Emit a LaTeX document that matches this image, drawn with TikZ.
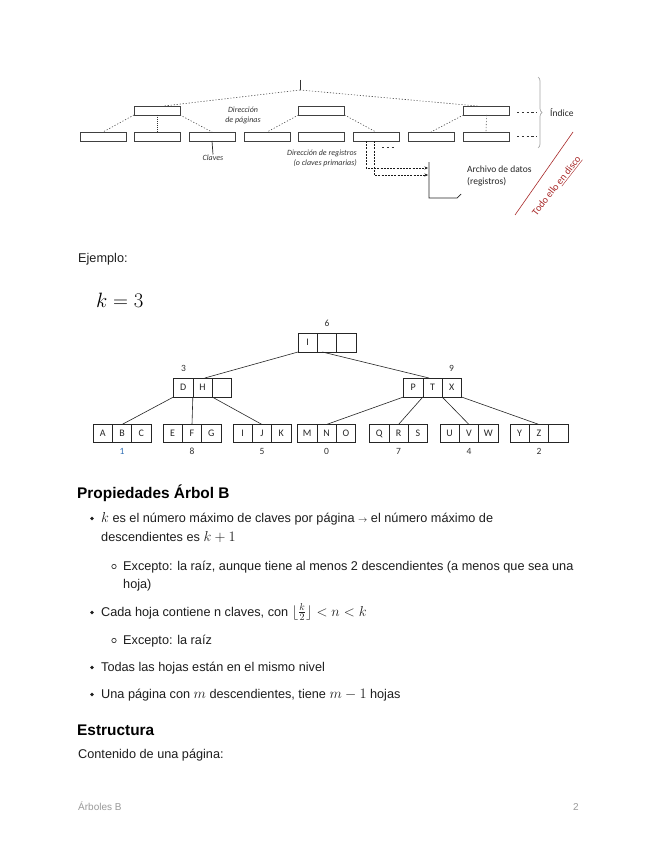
\documentclass[tikz,border=0pt]{standalone}
\usepackage[no-math]{fontspec}
\setmainfont{Liberation Sans}
\newfontfamily\carl{Carlito}
\usetikzlibrary{calc,arrows.meta,decorations.pathreplacing}
\definecolor{txt}{HTML}{1E1E1E}
\definecolor{dred}{HTML}{A82828}
\definecolor{nblue}{HTML}{2E6DB4}
\definecolor{foot}{HTML}{9A9A9A}
\newcommand\mth[1]{{\fontsize{14.4}{19}\selectfont$#1$}}
\newcommand\bpage[6][page]{%
  \node[#1] (#2) at #3 {};
  \draw[black!85,line width=0.6pt]
    ($(#2.north west)!1/3!(#2.north east)$) -- ($(#2.south west)!1/3!(#2.south east)$)
    ($(#2.north west)!2/3!(#2.north east)$) -- ($(#2.south west)!2/3!(#2.south east)$);
  \node[cell] (#2a) at ($(#2.west)!1/6!(#2.east)$) {#4};
  \node[cell] (#2b) at ($(#2.west)!1/2!(#2.east)$) {#5};
  \node[cell] (#2c) at ($(#2.west)!5/6!(#2.east)$) {#6};
}
\begin{document}
\begin{tikzpicture}[x=1pt,y=-1pt,
  ibox/.style={draw=black!75,line width=0.8pt,fill=white,minimum width=46pt,minimum height=9pt,inner sep=0pt,outer sep=0pt},
  dotl/.style={black!70,line width=0.6pt,dash pattern=on 1.2pt off 1.8pt},
  densel/.style={black!80,line width=0.6pt,dash pattern=on 1.2pt off 0.8pt},
  dashl/.style={black!90,line width=0.6pt,dash pattern=on 2pt off 1.2pt},
  lbl/.style={font=\carl\fontsize{8}{10}\selectfont\itshape,text=black!80,inner sep=0pt},
  dlbl/.style={font=\carl\fontsize{9.5}{12}\selectfont,text=black!85,inner sep=0pt},
  page/.style={draw=black!85,line width=0.6pt,minimum width=58pt,minimum height=19pt,inner sep=0pt,outer sep=0pt},
  leaf/.style={page,minimum height=18pt},
  cell/.style={font=\carl\fontsize{10}{11}\selectfont,inner sep=0pt,text=black!85},
  num/.style={font=\carl\fontsize{9.5}{11}\selectfont,inner sep=0pt,text=black!80},
  body/.style={anchor=base west,inner sep=0pt,font=\fontsize{12.7}{19}\selectfont,text=txt},
  head/.style={anchor=base west,inner sep=0pt,font=\bfseries\fontsize{15.4}{18}\selectfont,text=black},
  dots/.style={black!80,line width=0.7pt,dash pattern=on 2.2pt off 2.6pt}
]
\useasboundingbox[fill=white] (0,0) rectangle (655,848);

% ---------- top diagram ----------
\coordinate (root) at (300,90);
\draw[black!80,line width=0.7pt] (300,80) -- (root);
\foreach \n/\x in {1/80,2/134,3/189,4/244,5/298,6/353,7/408,8/463}{
  \node[ibox] (l\n) at (\x+23,136.5) {};
}
\node[ibox] (i1) at (157,110.5) {};
\node[ibox] (i2) at (321.5,110.5) {};
\node[ibox] (i3) at (486.5,110.5) {};

\draw[dotl] (root) -- ($(i1.north west)!0.65!(i1.north east)$);
\draw[dotl] (root) -- ($(i3.north west)!0.3!(i3.north east)$);
\draw[dotl] (i1.south west) -- (l1.north);
\draw[densel] (i1.south) -- (l2.north);
\draw[dotl] (i1.south east) -- (l3.north);
\draw[dotl] (i2.south west) -- (l4.north);
\draw[dotl] (i2.south east) -- (l6.north);
\draw[dotl] (i3.south west) -- (l7.north);
\draw[dotl] (i3.south) -- (l8.north);

\node[lbl,align=center] (dirpag) at (243,115) {Dirección\\de páginas};
\node[lbl] (claves) at (213,157.5) {Claves};
\draw[black!85,line width=0.7pt] (l3.south) -- (claves.north);
\node[lbl,align=right,anchor=east] (dirreg) at (357,158) {Dirección de registros\\(o claves primarias)};

\draw[dots] (517,112) -- (537,112);
\draw[dots] (517,136.5) -- (537,136.5);
\draw[dots] (382,147) -- (395,147);

\coordinate (ft) at (429,162);
\coordinate (fb) at (429,198);
\coordinate (fa) at (428,168);
\coordinate (fc) at (428,175);
\draw[dashl,-{Stealth[length=3.5pt,width=3pt]}] ($(l6.south west)+(13,0)$) |- (fa);
\draw[dashl,-{Stealth[length=3.5pt,width=3pt]}] ($(l6.south west)+(21,0)$) |- (fc);
\draw[black!85,line width=0.7pt] (ft) -- (fb) -- (457,198) -- (461,194);
\node[dlbl,anchor=north west,align=left] (arch) at (467,166) {Archivo de datos\\(registros)};

\draw[black!35,line width=0.7pt,decorate,decoration={brace,amplitude=4pt}] (538,77) -- (538,148);
\node[dlbl,anchor=west] (indice) at (550,113) {Índice};

\draw[dred,line width=0.6pt] (515,215) -- (573,132);
\node[font=\carl\fontsize{10}{12}\selectfont,text=dred,rotate=52,inner sep=0pt] (disco) at (557,186) {Todo ello \underline{en disco}};

% ---------- example ----------
\node[body] (ej) at (78,262) {Ejemplo:};
\node[anchor=base west,inner sep=0pt,font=\fontsize{20.74}{22}\selectfont] (keq) at (96,307) {$k=3$};

\bpage{rt}{(327,342.5)}{I}{}{}
\bpage{dh}{(202.5,387.5)}{D}{H}{}
\bpage{ptx}{(432.5,387.5)}{P}{T}{X}
\bpage[leaf]{f1}{(122,433.5)}{A}{B}{C}
\bpage[leaf]{f2}{(192,433.5)}{E}{F}{G}
\bpage[leaf]{f3}{(262,433.5)}{I}{J}{K}
\bpage[leaf]{f4}{(326.5,433.5)}{M}{N}{O}
\bpage[leaf]{f5}{(398.5,433.5)}{Q}{R}{S}
\bpage[leaf]{f6}{(469,433.5)}{U}{V}{W}
\bpage[leaf]{f7}{(539,433.5)}{Y}{Z}{}

\node[num] (n6) at (327,323) {6};
\node[num] (n3) at (183.5,368) {3};
\node[num] (n9) at (451.5,368) {9};
\node[num,text=nblue] (m1) at (122,451) {1};
\node[num] (m8) at (192,451) {8};
\node[num] (m5) at (262,451) {5};
\node[num] (m0) at (326.5,451) {0};
\node[num] (m7) at (398.5,451) {7};
\node[num] (m4) at (469,451) {4};
\node[num] (m2) at (539,451) {2};

\draw[black!85,line width=0.6pt] (rt.south west) -- ($(dh.north west)!0.54!(dh.north east)$);
\draw[black!85,line width=0.6pt] ($(rt.south west)!0.42!(rt.south east)$) -- ($(ptx.north west)!0.44!(ptx.north east)$);
\draw[black!85,line width=0.6pt] (dh.south west) -- (f1.north);
\draw[black!85,line width=0.6pt] ($(dh.south west)!1/3!(dh.south east)$) -- (f2.north);
\draw[black!85,line width=0.6pt] ($(dh.south west)!2/3!(dh.south east)$) -- (f3.north);
\draw[black!85,line width=0.6pt] (ptx.south west) -- (f4.north);
\draw[black!85,line width=0.6pt] ($(ptx.south west)!1/3!(ptx.south east)$) -- (f5.north);
\draw[black!85,line width=0.6pt] ($(ptx.south west)!2/3!(ptx.south east)$) -- (f6.north);
\draw[black!85,line width=0.6pt] (ptx.south east) -- (f7.north);

% ---------- text ----------
\node[head] (h1) at (77,498) {Propiedades Árbol B};
\fill[txt] (92,518.5) circle (1.8);
\node[body] (b1) at (101,522) {\mth{k} es el número máximo de claves por página $\scriptstyle\rightarrow$ el número máximo de};
\node[body] (b1b) at (101,541) {descendientes es \mth{k+1}};
\draw[txt,line width=0.6pt] (114,566.5) circle (2.2);
\node[body] (s1) at (123,570) {Excepto: la raíz, aunque tiene al menos 2 descendientes (a menos que sea una};
\node[body] (s1b) at (123,588) {hoja)};
\fill[txt] (92,612.5) circle (1.8);
\node[body] (b2) at (101,616) {Cada hoja contiene n claves, con \mth{\lfloor\frac{k}{2}\rfloor < n < k}};
\draw[txt,line width=0.6pt] (114,640.5) circle (2.2);
\node[body] (s2) at (123,644) {Excepto: la raíz};
\fill[txt] (92,667.5) circle (1.8);
\node[body] (b3) at (101,671) {Todas las hojas están en el mismo nivel};
\fill[txt] (92,694.5) circle (1.8);
\node[body] (b4) at (101,698) {Una página con \mth{m} descendientes, tiene \mth{m-1} hojas};
\node[head] (h2) at (77,735) {Estructura};
\node[body] (c1) at (78,758) {Contenido de una página:};

\node[anchor=base west,inner sep=0pt,font=\fontsize{10}{12}\selectfont,text=foot] (f1t) at (78,810) {Árboles B};
\node[anchor=base east,inner sep=0pt,font=\fontsize{10}{12}\selectfont,text=foot] (f2t) at (579,810) {2};
\end{tikzpicture}
\end{document}
